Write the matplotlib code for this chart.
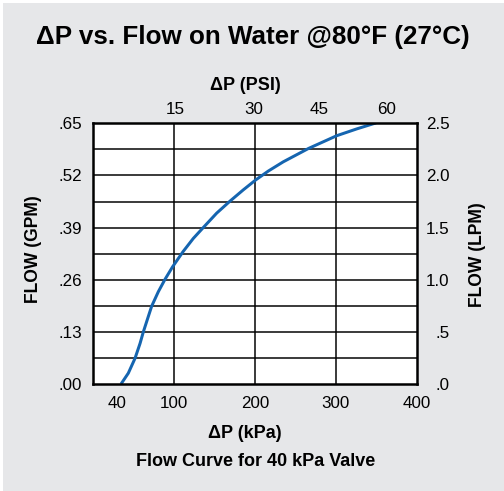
import numpy as np
import matplotlib
matplotlib.use("Agg")
import matplotlib.pyplot as plt
from matplotlib.patches import Rectangle

# ---- data ----
kpa = [34.3, 43.3, 51.6, 57.8, 61.9, 68.0, 72.2, 80.4, 88.7, 98, 111, 123.7, 136,
       152.6, 169.1, 185.5, 201, 216.5, 235, 265.9, 301, 325.8, 349.7]
gpm = [0.0, 0.027, 0.064, 0.101, 0.130, 0.168, 0.194, 0.230, 0.261, 0.292, 0.330, 0.363, 0.390,
       0.426, 0.456, 0.484, 0.509, 0.531, 0.554, 0.587, 0.619, 0.636, 0.651]

x_ticks = [29, 100, 200, 300, 400]
x_ticklabels = ["40", "100", "200", "300", "400"]
psi_ticks = [101, 198, 279, 363]
psi_ticklabels = ["15", "30", "45", "60"]
gpm_ticks = [0.0, 0.13, 0.26, 0.39, 0.52, 0.65]
gpm_ticklabels = [".00", ".13", ".26", ".39", ".52", ".65"]
lpm_ticklabels = [".0", ".5", "1.0", "1.5", "2.0", "2.5"]
grid_x = [100, 200, 300]
grid_y = [0.065 * i for i in range(1, 10)]

W, H = 504, 491
DPI = 72
FONT = "Liberation Sans"
plt.rcParams["font.family"] = [FONT, "DejaVu Sans"]

fig = plt.figure(figsize=(W / DPI, H / DPI), dpi=DPI)
fig.patch.set_facecolor("white")
bg = Rectangle((3 / W, 0), 1, 1 - 3 / H, transform=fig.transFigure,
               facecolor="#e6e7e9", edgecolor="none", zorder=-10)
fig.add_artist(bg)

L, R, T, B = 93.3, 416.7, 123.3, 384.0
ax = fig.add_axes([L / W, 1 - B / H, (R - L) / W, (B - T) / H], zorder=1)
ax.set_facecolor("white")
ax.set_xlim(0, 400)
ax.set_ylim(0, 0.65)

for gx in grid_x:
    ax.axvline(gx, color="black", lw=1.5, zorder=1)
for gy in grid_y:
    ax.axhline(gy, color="black", lw=1.5, zorder=1)

ax.plot(kpa, gpm, color="#1565b0", lw=3, zorder=3,
        solid_capstyle="butt", solid_joinstyle="round")

for s in ax.spines.values():
    s.set_linewidth(2.5)
    s.set_color("black")
    s.set_zorder(4)

ax.set_xticks(x_ticks)
ax.set_xticklabels(x_ticklabels, fontsize=17)
ax.tick_params(axis="x", length=0, pad=12)
ax.set_yticks(gpm_ticks)
ax.set_yticklabels(gpm_ticklabels, fontsize=17)
ax.tick_params(axis="y", length=0, pad=11)

axr = ax.twinx()
axr.set_ylim(0, 0.65)
axr.set_yticks(gpm_ticks)
axr.set_yticklabels(lpm_ticklabels, fontsize=17, ha="right")
axr.tick_params(axis="y", length=0, pad=33)
for s in axr.spines.values():
    s.set_visible(False)

axt = ax.twiny()
axt.set_xlim(0, 400)
axt.set_xticks(psi_ticks)
axt.set_xticklabels(psi_ticklabels, fontsize=17)
axt.tick_params(axis="x", length=0, pad=6)
for s in axt.spines.values():
    s.set_visible(False)

def ftext(x, y, s, **kw):
    fig.text(x / W, 1 - y / H, s, ha="center", va="center", **kw)

ftext(253, 37, "ΔP vs. Flow on Water @80°F (27°C)", fontsize=26, fontweight="bold")
ftext(245, 85, "ΔP (PSI)", fontsize=18, fontweight="bold")
ftext(245, 433, "ΔP (kPa)", fontsize=18, fontweight="bold")
ftext(256, 462, "Flow Curve for 40 kPa Valve", fontsize=18, fontweight="bold")
ftext(33, 249, "FLOW (GPM)", fontsize=17.5, fontweight="bold", rotation=90)
ftext(477, 255, "FLOW (LPM)", fontsize=17.5, fontweight="bold", rotation=90)

fig.savefig("out.png", dpi=DPI, facecolor=fig.get_facecolor())
